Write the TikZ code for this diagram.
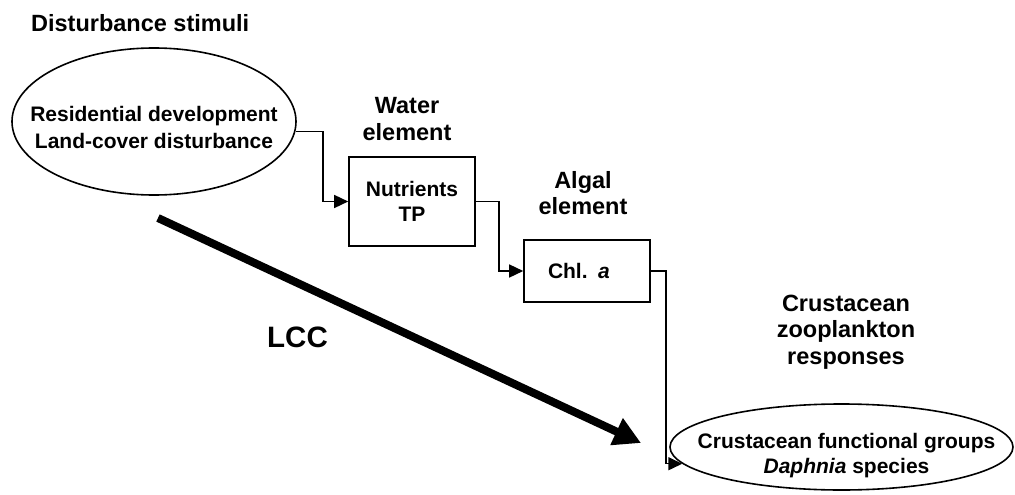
\documentclass[tikz,border=0pt]{standalone}
\usepackage{fontspec}
\setmainfont{Liberation Sans}
\usetikzlibrary{arrows.meta,shapes.geometric}

\begin{document}
\begin{tikzpicture}[x=1pt,y=-1pt,line width=1.6pt,
    txt/.style={font=\fontsize{21}{25}\selectfont\bfseries,align=center},
    head/.style={font=\fontsize{23.5}{26.5}\selectfont\bfseries,align=center},
    oval/.style={draw,ellipse,inner sep=0pt},
    box/.style={draw,rectangle,inner sep=0pt,txt},
    conn/.style={-{Triangle[length=14pt,width=13pt]},line width=1.5pt}]
  \useasboundingbox (0,0) rectangle (1015,495);
  \node[head,anchor=base west] (stim) at (27,32) {Disturbance stimuli};
  \node[oval,minimum width=284pt,minimum height=147pt,
    label={[txt,font=\fontsize{21}{27.5}\selectfont\bfseries,yshift=-6pt]center:Residential development\\Land-cover disturbance}] (dist) at (154,121.5) {};
  \node[head] (water) at (407,119) {Water\\element};
  \node[box,minimum width=126pt,minimum height=89pt] (nut) at (412,201.5) {Nutrients\\TP};
  \node[head] (algal) at (583,193) {Algal\\element};
  \node[box,minimum width=126pt,minimum height=62.5pt,text width=78pt,align=left] (chl) at (587,271) {Chl. \textit{a}};
  \node[head] (crus) at (846,332) {Crustacean\\zooplankton\\responses};
  \node[oval,minimum width=343pt,minimum height=86pt,
    label={[txt,xshift=5pt,yshift=-9pt]center:Crustacean functional groups\\\textit{Daphnia} species}] (resp) at (841.5,447) {};
  \node[font=\fontsize{29.5}{32}\selectfont\bfseries] (lcc) at (297.5,337.5) {LCC};
  \coordinate (lccfrom) at (158,218);
  \coordinate (lccto) at (641,443);
  % stimulus -> water -> algae -> zooplankton
  \foreach \a/\b/\d in {dist.-4/nut.west/27.5,nut.east/chl.west/23,chl.east/resp.186/15}{
    \draw[conn] (\a) -- ++(\d,0) |- (\b);}
  \draw[line width=8pt,-{Triangle[length=27pt,width=28pt]}] (lccfrom) -- (lccto);
\end{tikzpicture}
\end{document}
